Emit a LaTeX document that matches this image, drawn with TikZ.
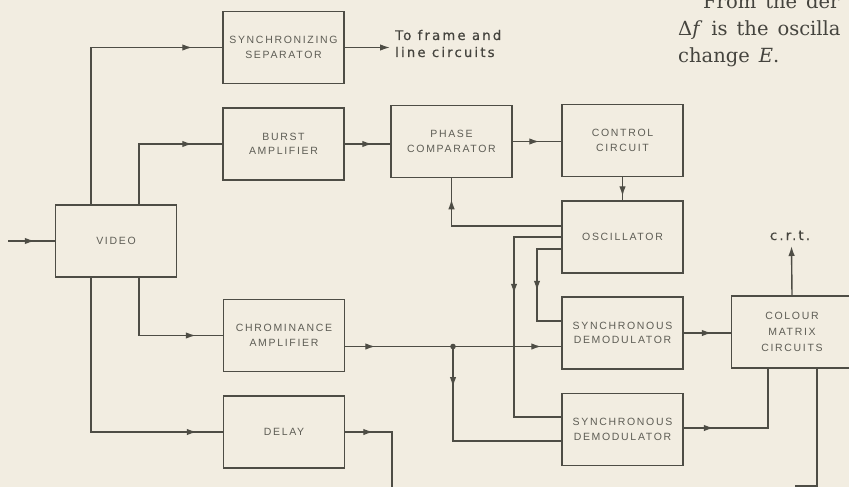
\documentclass[tikz,border=0pt]{standalone}
\usepackage{fontspec}
\newfontfamily\boxfont{Liberation Sans}[LetterSpace=16]
\newfontfamily\handfont{DejaVu Sans}[LetterSpace=16,FakeBold=0.6]
\newfontfamily\printfont{DejaVu Serif}
\newcommand\widesp{\spaceskip=9pt\relax}
\usetikzlibrary{arrows.meta,calc,decorations.markings}
\definecolor{paper}{HTML}{F2EDE1}
\definecolor{ink}{HTML}{4E4D45}
\definecolor{boxtext}{HTML}{5E5D55}
\definecolor{printink}{HTML}{45443E}
\begin{document}
\begin{tikzpicture}[x=1pt,y=-1pt,
  blk/.style={draw=ink, line width=1.5pt, minimum width=121pt, minimum height=72pt,
    inner sep=0pt, align=center, text=boxtext,
    font=\boxfont\fontsize{10.5}{14.5}\selectfont},
  wire/.style={draw=ink, line width=1.4pt},
  tipat/.style={postaction={decorate},decoration={markings,
    mark=at position #1 with {\arrow[ink]{Latex[length=10pt,width=6.5pt]}}}},
  endtip/.style={-{Latex[length=10pt,width=6.5pt]}},
  hand/.style={font=\handfont\fontsize{13.3}{16}\selectfont, text=printink, inner sep=0pt},
  serif/.style={font=\printfont\fontsize{19.5}{27}\selectfont, text=printink, inner sep=0pt, anchor=base west}]
\fill[paper] (0,0) rectangle (849,487);
\useasboundingbox (0,0) rectangle (849,487);
\clip (0,0) rectangle (849,487);

% blocks
\node[blk] (sync)   at (283.5,47.5) {SYNCHRONIZING\\SEPARATOR};
\node[blk] (burst)  at (283.5,144)  {BURST\\AMPLIFIER};
\node[blk] (video)  at (116,241)    {VIDEO};
\node[blk] (phase)  at (451.5,141.5) {PHASE\\COMPARATOR};
\node[blk] (ctrl)   at (622.5,140.5) {CONTROL\\CIRCUIT};
\node[blk] (osc)    at (622.5,237)  {OSCILLATOR};
\node[blk] (dem1)   at (622.5,333)  {SYNCHRONOUS\\DEMODULATOR};
\node[blk] (dem2)   at (622.5,429.5) {SYNCHRONOUS\\DEMODULATOR};
\node[blk, font=\boxfont\fontsize{10.5}{16}\selectfont] (matrix) at (792,332) {COLOUR\\MATRIX\\CIRCUITS};
\node[blk] (chroma) at (284,335.5)  {CHROMINANCE\\AMPLIFIER};
\node[blk] (delay)  at (284,432)    {DELAY};

% texts
\node[hand, anchor=base west] (to1) at (395,40) {To frame and};
\node[hand, anchor=base west] (to2) at (395,57) {line circuits};
\node[hand, anchor=base] (crt) at (790,240) {c.r.t.};
\node[serif] (p1) at (703,9) {\widesp From the der};
\node[serif] (p2) at (678,36) {\widesp Δ\textit{f} is the oscilla};
\node[serif] (p3) at (678,63) {\widesp change \textit{E}.};

% helper coordinates
\coordinate (c91) at (91,0);
\coordinate (c139) at (139,0);
\coordinate (c514) at (514,0);
\coordinate (c537) at (537,0);
\coordinate (in) at (8,241);
\coordinate (sout) at (390,47.5);
\coordinate (j) at (453,346.5);
\coordinate (crtpt) at (791.5,246);
\coordinate (dout) at (392,492);
\coordinate (bend2) at (795,486);
\coordinate (o1) at ($(osc.west)+(0,-11)$);
\coordinate (o3) at ($(osc.west)+(0,12)$);
\coordinate (d1a) at ($(dem1.west)+(0,-12)$);
\coordinate (d2a) at ($(dem2.west)+(0,-12.5)$);
\coordinate (d2b) at ($(dem2.west)+(0,11.5)$);
\coordinate (chout) at ($(chroma.east)+(0,11)$);
\coordinate (m2) at ($(matrix.south)+(-24,0)$);
\coordinate (m3) at ($(matrix.south)+(25,0)$);

% connectors
\draw[wire, tipat=-20pt] (in) -- (video.west);
\draw[wire, tipat=-30pt] (video.north -| c91) |- (sync.west);
\draw[wire, tipat=-30pt] (video.north -| c139) |- (burst.west);
\draw[wire, tipat=-27pt] (video.south -| c139) |- (chroma.west);
\draw[wire, tipat=-26pt] (video.south -| c91) |- (delay.west);
\draw[wire, endtip] (sync.east) -- (sout);
\draw[wire, tipat=-18pt] (burst.east) -- (burst.east -| phase.west);
\draw[wire, tipat=-22pt] (phase.east) -- (phase.east -| ctrl.west);
\draw[wire, tipat=-4pt] (ctrl.south) -- (osc.north);
\draw[wire, tipat=-21pt] (o1) -| (phase.south);
\draw[wire, tipat=104pt] (osc.west) -| (d2a -| c514) -- (d2a);
\draw[wire, tipat=66pt] (o3) -| (d1a -| c537) -- (d1a);
\draw[wire, tipat=30pt] (chout) -- (j);
\draw[wire, tipat=-20pt] (j) -- (j -| dem1.west);
\draw[wire, tipat=40.5pt] (j) |- (d2b);
\fill[ink] (j) circle (2.8pt);
\draw[wire, tipat=-19pt] (dem1.east) -- (dem1.east -| matrix.west);
\draw[wire, tipat=30pt] ($(dem2.east)+(0,-1.5)$) -| (m2);
\draw[wire, endtip] (matrix.north) -- (crtpt);
\draw[wire] (m3) |- (bend2);
\draw[wire, tipat=28pt] (delay.east) -| (dout);
\end{tikzpicture}
\end{document}
